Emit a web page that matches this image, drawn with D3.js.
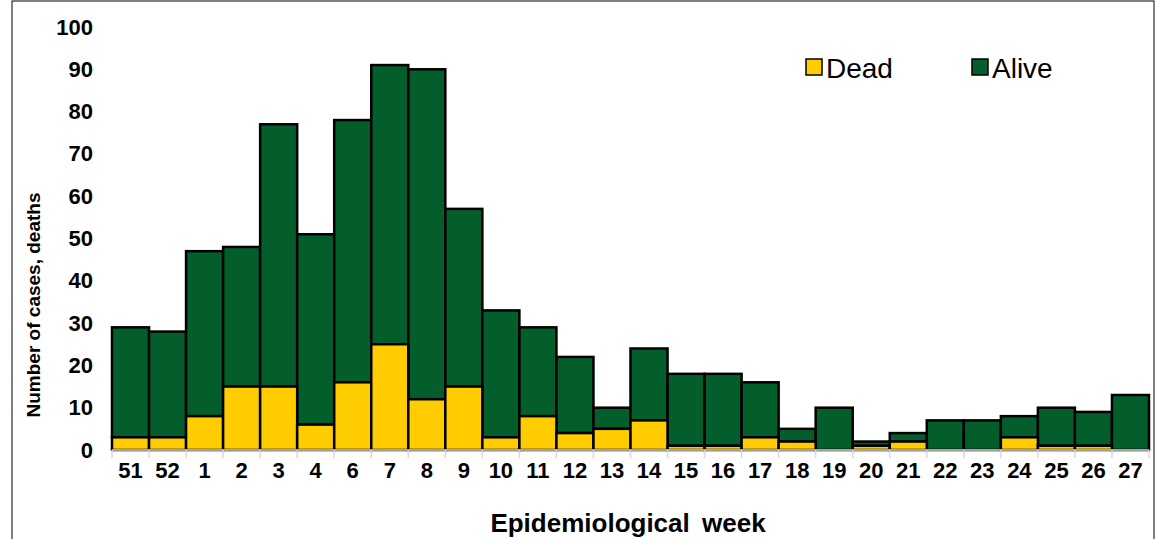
<!DOCTYPE html>
<html><head><meta charset="utf-8">
<script src="https://cdn.jsdelivr.net/npm/d3@7"></script>
<style>body{margin:0;background:#fff}</style>
</head><body>
<svg id="viz" width="1156" height="539"></svg>
<script>
var weeks = ['51','52','1','2','3','4','6','7','8','9','10','11','12','13','14','15','16','17','18','19','20','21','22','23','24','25','26','27']
var totals = [29,28,47,48,77,51,78,91,90,57,33,29,22,10,24,18,18,16,5,10,2,4,7,7,8,10,9,13]
var dead = [3,3,8,15,15,6,16,25,12,15,3,8,4,5,7,1,1,3,2,0,1,2,0,0,3,1,1,0]
var yTicks = d3.range(0, 101, 10)

var svg = d3.select('svg#viz')
var plotLeft = 112, plotRight = 1149, plotTop = 27, plotBottom = 450
var font = 'bold 22px Arial, "Liberation Sans", sans-serif'

svg.append('rect').attr('x', 12).attr('y', 1).attr('width', 1142).attr('height', 560)
  .attr('fill', 'none').attr('stroke', '#000').attr('stroke-width', 1)

var x = d3.scaleBand().domain(weeks).range([plotLeft, plotRight])
var y = d3.scaleLinear().domain([0, 100]).range([plotBottom, plotTop])

var data = weeks.map(function(w, i) { return {week: w, dead: dead[i], total: totals[i]} })

var g = svg.append('g')
g.selectAll('rect.alive').data(data).enter().append('rect')
  .attr('x', d => x(d.week)).attr('width', x.bandwidth())
  .attr('y', d => y(d.total)).attr('height', d => y(d.dead) - y(d.total))
  .attr('fill', '#035e2b').attr('stroke', '#000').attr('stroke-width', 2.5)
g.selectAll('rect.dead').data(data.filter(d => d.dead > 0)).enter().append('rect')
  .attr('x', d => x(d.week)).attr('width', x.bandwidth())
  .attr('y', d => y(d.dead)).attr('height', d => y(0) - y(d.dead))
  .attr('fill', '#ffcc00').attr('stroke', '#000').attr('stroke-width', 2.5)

// axes
svg.append('line').attr('x1', plotLeft).attr('x2', plotRight).attr('y1', plotBottom).attr('y2', plotBottom)
  .attr('stroke', '#d9d9d9').attr('stroke-width', 1.5)
svg.selectAll('line.tick').data(weeks.concat(['end'])).enter().append('line')
  .attr('x1', (d, i) => plotLeft + i * x.step()).attr('x2', (d, i) => plotLeft + i * x.step())
  .attr('y1', plotBottom).attr('y2', plotBottom + 8).attr('stroke', '#d9d9d9').attr('stroke-width', 1.5)

svg.selectAll('text.xl').data(weeks).enter().append('text')
  .attr('x', d => x(d) + x.bandwidth() / 2).attr('y', 478)
  .attr('text-anchor', 'middle').style('font', font)
  .text(d => d)
svg.selectAll('text.yl').data(yTicks).enter().append('text')
  .attr('x', 93).attr('y', d => y(d)).attr('dominant-baseline', 'central')
  .attr('text-anchor', 'end').style('font', font)
  .text(d => d)

svg.append('text').attr('x', 628).attr('y', 532).attr('text-anchor', 'middle')
  .style('font', 'bold 26px Arial, "Liberation Sans", sans-serif').style('word-spacing', '5px')
  .text('Epidemiological week')
svg.append('text').attr('transform', 'translate(40,305) rotate(-90)')
  .attr('text-anchor', 'middle').style('font', 'bold 19px Arial, "Liberation Sans", sans-serif')
  .text('Number of cases, deaths')

// legend
var legend = [{label: 'Dead', color: '#ffcc00', x: 806}, {label: 'Alive', color: '#035e2b', x: 972}]
legend.forEach(function(l) {
  svg.append('rect').attr('x', l.x).attr('y', 59).attr('width', 16).attr('height', 16)
    .attr('fill', l.color).attr('stroke', '#000').attr('stroke-width', 1.5)
  svg.append('text').attr('x', l.x + 20).attr('y', 68).attr('dominant-baseline', 'central')
    .style('font', '28px Arial, "Liberation Sans", sans-serif').text(l.label)
})
</script>
</body></html>
